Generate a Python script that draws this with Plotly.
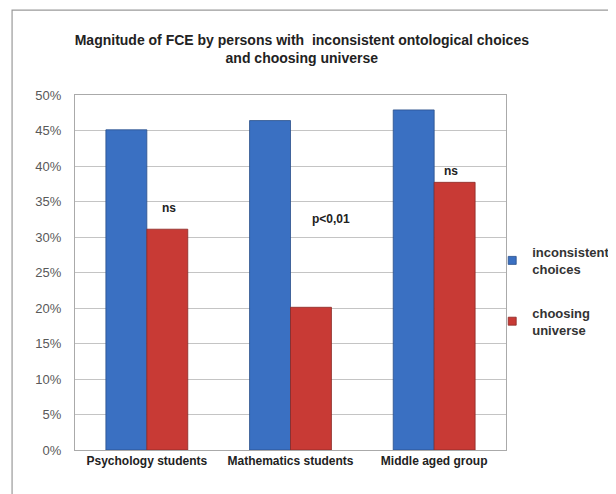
import plotly.graph_objects as go

categories = ["Psychology students", "Mathematics students", "Middle aged group"]
inconsistent = [45.1, 46.4, 47.9]
universe = [31.1, 20.1, 37.7]
series_names = ["inconsistent<br>choices", "choosing<br>universe"]
notes = ["ns", "p<0,01", "ns"]
note_y = [34.1, 32.5, 39.3]
note_x = [0.153, 0.285, 0.118]
tick_vals = [0, 5, 10, 15, 20, 25, 30, 35, 40, 45, 50]
tick_text = [f"{v}%" for v in tick_vals]
colors = ["#3A70C2", "#C83A35"]
edge = ["#2A4F8A", "#8A2A26"]

fig = go.Figure()
fig.add_trace(go.Bar(x=categories, y=inconsistent, name=series_names[0], showlegend=False,
                     marker=dict(color=colors[0], line=dict(color=edge[0], width=0.8))))
fig.add_trace(go.Bar(x=categories, y=universe, name=series_names[1], showlegend=False,
                     marker=dict(color=colors[1], line=dict(color=edge[1], width=0.8))))
for k, (name, c, e) in enumerate(zip(series_names, colors, edge)):
    fig.add_trace(go.Scatter(x=[None], y=[None], mode="markers", name=f"<b>{name}</b>",
                             legendgroup=f"g{k}",
                             marker=dict(symbol="square", size=8, color=c, line=dict(color=e, width=0.8))))

for i, (t, yv, dx) in enumerate(zip(notes, note_y, note_x)):
    fig.add_annotation(x=i + dx, y=yv, text=f"<b>{t}</b>", showarrow=False,
                       xref="x", yref="y",
                       font=dict(family="Liberation Sans, Arial", size=12, color="#222"))

fig.add_shape(type="rect", xref="paper", yref="paper", x0=-0.146, x1=1.35, y0=-0.2, y1=1.239,
              line=dict(color="#9a9a9a", width=1.2), fillcolor="rgba(0,0,0,0)", layer="below")

fig.update_layout(
    width=616, height=494,
    margin=dict(l=67, r=118, t=87, b=52, autoexpand=False),
    paper_bgcolor="white", plot_bgcolor="white",
    barmode="group", bargap=0.43, bargroupgap=0,
    title=dict(text="<b>Magnitude of FCE by persons with  inconsistent ontological choices<br>and choosing universe</b>",
               x=0.477, xanchor="center", y=0.925, yanchor="middle",
               font=dict(family="Liberation Sans, Arial", size=14, color="#222")),
    xaxis=dict(showline=True, linecolor="#aaa", ticks="", showgrid=False,
               tickfont=dict(family="Liberation Sans, Arial", size=12, color="#222"),
               tickprefix="<b>", ticksuffix="</b>", mirror=True),
    yaxis=dict(range=[0, 50], tickvals=tick_vals, ticktext=tick_text, showgrid=True,
               gridcolor="#c4c4c4", gridwidth=1, showline=True, linecolor="#aaa", mirror=True,
               tickfont=dict(family="Liberation Sans, Arial", size=13, color="#595959"),
               ticks="", ticklabelstandoff=10, zeroline=False),
    legend=dict(x=0.968, y=0.60, xanchor="left", yanchor="top", tracegroupgap=24,
                bgcolor="rgba(0,0,0,0)",
                font=dict(family="Liberation Sans, Arial", size=13, color="#333"),
                itemwidth=30),
    showlegend=True,
)

fig.write_html("out.html")
